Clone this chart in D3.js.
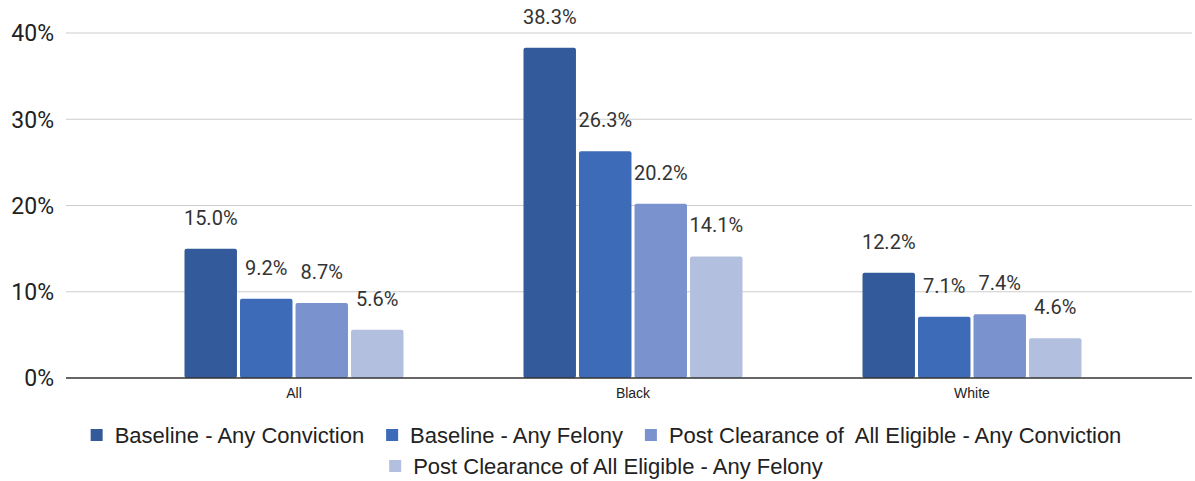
<!DOCTYPE html>
<html>
<head>
<meta charset="utf-8">
<script src="https://cdn.jsdelivr.net/npm/d3@7"></script>
<style>
  body { margin: 0; background: #fff; }
  svg { display: block; }
</style>
</head>
<body>
<svg id="chart" width="1195" height="481"></svg>
<script>
var categories = ["All", "Black", "White"];
var seriesNames = [
  "Baseline - Any Conviction",
  "Baseline - Any Felony",
  "Post Clearance of  All Eligible - Any Conviction",
  "Post Clearance of All Eligible - Any Felony"
];
var baselineConviction = [15.0, 38.3, 12.2];
var baselineFelony = [9.2, 26.3, 7.1];
var postConviction = [8.7, 20.2, 7.4];
var postFelony = [5.6, 14.1, 4.6];
var yTicks = [0, 10, 20, 30, 40];
var colors = ["#335a9a", "#3e6bb7", "#7a93cf", "#b3bfdf"];

var series = [baselineConviction, baselineFelony, postConviction, postFelony];

var svg = d3.select("svg#chart");
var plotLeft = 66, plotRight = 1192;
var y = d3.scaleLinear().domain([0, 40]).range([378, 33]);
var x0 = d3.scaleBand().domain(categories).range([124.5, 1141.5]).paddingInner(0).paddingOuter(0);
var x1 = d3.scaleBand().domain(d3.range(4)).range([x0.bandwidth() / 2 - 109.5, x0.bandwidth() / 2 + 109.5]).paddingInner(0.055);

// gridlines
svg.append("g").selectAll("line")
  .data(yTicks.filter(function(d) { return d > 0; }))
  .join("line")
  .attr("x1", plotLeft).attr("x2", plotRight)
  .attr("y1", function(d) { return y(d); }).attr("y2", function(d) { return y(d); })
  .attr("stroke", "#cccccc").attr("stroke-width", 1);

// y labels
svg.append("g").selectAll("text")
  .data(yTicks)
  .join("text")
  .attr("x", 54)
  .attr("y", function(d) { return y(d); })
  .attr("dy", "0.36em")
  .attr("text-anchor", "end")
  .attr("font-family", "Roboto, Arial, sans-serif")
  .attr("font-size", 23)
  .attr("fill", "#222")
  .text(function(d) { return d + "%"; });

// bars
var groups = svg.append("g").selectAll("g")
  .data(categories)
  .join("g")
  .attr("transform", function(d) { return "translate(" + x0(d) + ",0)"; });

groups.selectAll("rect")
  .data(function(d, i) { return series.map(function(s, j) { return { k: j, v: s[i] }; }); })
  .join("rect")
  .attr("x", function(d) { return x1(d.k); })
  .attr("width", x1.bandwidth())
  .attr("y", function(d) { return y(d.v); })
  .attr("height", function(d) { return y(0) - y(d.v); })
  .attr("rx", 2)
  .attr("fill", function(d) { return colors[d.k]; });

groups.selectAll("text.val")
  .data(function(d, i) { return series.map(function(s, j) { return { k: j, v: s[i] }; }); })
  .join("text")
  .attr("class", "val")
  .attr("x", function(d) { return x1(d.k) + x1.bandwidth() / 2; })
  .attr("y", function(d) { return y(d.v) - 24; })
  .attr("text-anchor", "middle")
  .attr("font-family", "Roboto, Arial, sans-serif")
  .attr("font-size", 20)
  .attr("fill", "#333")
  .text(function(d) { return d.v.toFixed(1) + "%"; });

// baseline
svg.append("line")
  .attr("x1", plotLeft).attr("x2", plotRight)
  .attr("y1", y(0)).attr("y2", y(0))
  .attr("stroke", "#333").attr("stroke-width", 1.5);

// category labels
svg.append("g").selectAll("text")
  .data(categories)
  .join("text")
  .attr("x", function(d) { return x0(d) + x0.bandwidth() / 2; })
  .attr("y", 398)
  .attr("text-anchor", "middle")
  .attr("font-family", "Arial, 'Liberation Sans', sans-serif")
  .attr("font-size", 14)
  .attr("fill", "#222")
  .text(function(d) { return d; });

// legend
var legendRows = [[0, 1, 2], [3]];
var rowY = [435, 466];
legendRows.forEach(function(row, r) {
  var g = svg.append("g");
  var cx = 0;
  row.forEach(function(k) {
    var item = g.append("g").attr("transform", "translate(" + cx + ",0)");
    item.append("rect").attr("x", 0).attr("y", -6).attr("width", 12).attr("height", 12)
      .attr("fill", colors[k]);
    var t = item.append("text").attr("x", 24).attr("y", 0).attr("dy", "0.35em")
      .attr("font-family", "Arial, 'Liberation Sans', sans-serif")
      .attr("font-size", 22).attr("fill", "#222")
      .style("white-space", "pre")
      .text(seriesNames[k]);
    cx += 24 + t.node().getComputedTextLength() + 22;
  });
  var total = cx - 22;
  g.attr("transform", "translate(" + ((plotLeft + plotRight) / 2 - total / 2 - 23) + "," + rowY[r] + ")");
});
</script>
</body>
</html>
